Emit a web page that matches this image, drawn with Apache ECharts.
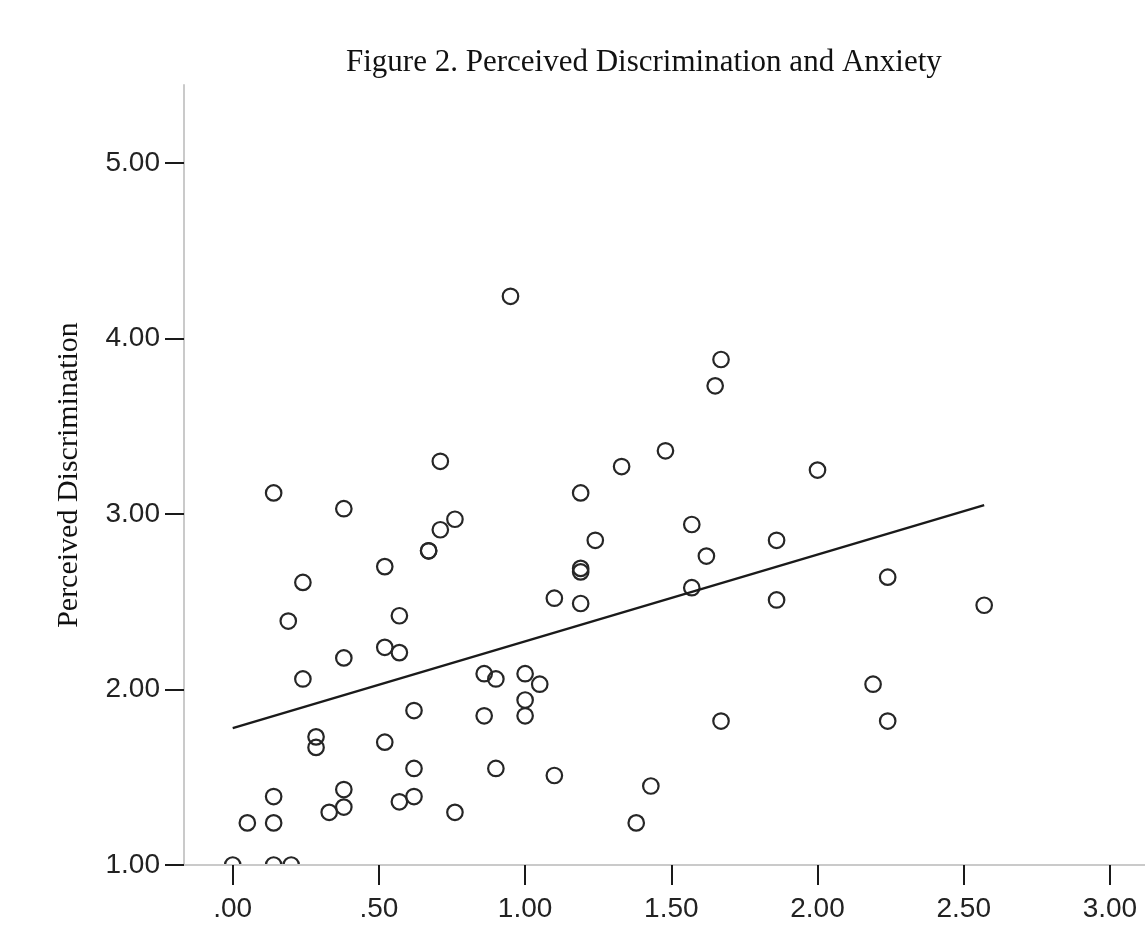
<!DOCTYPE html>
<html>
<head>
<meta charset="utf-8">
<script src="https://cdn.jsdelivr.net/npm/echarts@6/dist/echarts.min.js"></script>
<style>
html,body{margin:0;padding:0;background:#fff;}
#chart{width:1145px;height:934px;}
</style>
</head>
<body>
<div id="chart"></div>
<script>
// ---- data ----
var titleText = 'Figure 2. Perceived Discrimination and Anxiety';
var yAxisName = 'Perceived Discrimination';

// x = anxiety score, y = perceived discrimination
var pointsX = [0.00,0.14,0.20,0.05,0.14,0.14,0.14,0.19,0.24,0.24,0.285,0.285,0.33,0.38,0.38,0.38,0.38,
  0.52,0.52,0.52,0.57,0.57,0.57,0.62,0.62,0.62,0.67,0.67,0.71,0.71,0.76,0.76,0.86,0.86,0.90,0.90,0.95,
  1.00,1.00,1.00,1.05,1.10,1.10,1.19,1.19,1.19,1.19,1.24,1.33,1.38,1.43,1.48,1.57,1.57,1.62,1.65,1.67,
  1.67,1.86,1.86,2.00,2.19,2.24,2.24,2.57];
var pointsY = [1.00,1.00,1.00,1.24,1.24,1.39,3.12,2.39,2.61,2.06,1.73,1.67,1.30,1.33,1.43,2.18,3.03,
  2.70,2.24,1.70,2.42,2.21,1.36,1.39,1.55,1.88,2.79,2.79,2.91,3.30,2.97,1.30,2.09,1.85,2.06,1.55,4.24,
  2.09,1.94,1.85,2.03,2.52,1.51,2.69,2.67,2.49,3.12,2.85,3.27,1.24,1.45,3.36,2.94,2.58,2.76,3.73,3.88,
  1.82,2.85,2.51,3.25,2.03,2.64,1.82,2.48];

// fit line end points
var fitX = [0.00, 2.57];
var fitY = [1.78, 3.05];

var xTickValues = [0, 0.5, 1, 1.5, 2, 2.5, 3];
var xTickLabels = ['.00', '.50', '1.00', '1.50', '2.00', '2.50', '3.00'];
var yTickValues = [1, 2, 3, 4, 5];
var yTickLabels = ['1.00', '2.00', '3.00', '4.00', '5.00'];

// ---- build ----
var scatterData = pointsX.map(function (x, i) { return [x, pointsY[i]]; });
var lineData = fitX.map(function (x, i) { return [x, fitY[i]]; });
function labelFor(values, labels) {
  return function (v) {
    for (var i = 0; i < values.length; i++) {
      if (Math.abs(values[i] - v) < 1e-6) return labels[i];
    }
    return '';
  };
}

var chart = echarts.init(document.getElementById('chart'), null, {renderer: 'canvas'});
var axisLineColor = '#cacaca';
var tickColor = '#1a1a1a';
var labelFont = {fontFamily: 'Liberation Sans', fontSize: 28, color: '#222'};

chart.setOption({
  backgroundColor: '#fff',
  animation: false,
  title: {
    text: titleText,
    left: 341,
    top: 42,
    textStyle: {fontFamily: 'Liberation Serif', fontSize: 31, fontWeight: 'normal', color: '#111'}
  },
  grid: {left: 184, right: 0, top: 85, bottom: 69, containLabel: false},
  xAxis: {
    type: 'value',
    min: -0.1666,
    max: 3.12,
    z: 10,
    splitLine: {show: false},
    axisLine: {show: true, onZero: false, lineStyle: {color: axisLineColor, width: 2}},
    axisTick: {show: true, inside: false, length: 20, customValues: xTickValues,
      lineStyle: {color: tickColor, width: 2}},
    axisLabel: Object.assign({show: true, margin: 30, customValues: xTickValues,
      formatter: labelFor(xTickValues, xTickLabels)}, labelFont)
  },
  yAxis: {
    type: 'value',
    min: 1,
    max: 5.444,
    z: 10,
    name: yAxisName,
    nameLocation: 'middle',
    nameGap: 100,
    nameTextStyle: {fontFamily: 'Liberation Serif', fontSize: 30, color: '#111'},
    splitLine: {show: false},
    axisLine: {show: true, onZero: false, lineStyle: {color: axisLineColor, width: 2}},
    axisTick: {show: true, inside: false, length: 19, customValues: yTickValues,
      lineStyle: {color: tickColor, width: 2}},
    axisLabel: Object.assign({show: true, margin: 24, padding: [5, 0, 0, 0], customValues: yTickValues,
      formatter: labelFor(yTickValues, yTickLabels)}, labelFont)
  },
  graphic: [{
    type: 'rect',
    z: 5,
    shape: {x: 186, y: 866, width: 200, height: 12},
    style: {fill: '#fff'}
  }],
  series: [
    {
      type: 'scatter',
      data: scatterData,
      symbol: 'circle',
      symbolSize: 15.5,
      z: 2,
      itemStyle: {color: 'rgba(0,0,0,0)', borderColor: '#262626', borderWidth: 2.2, opacity: 1}
    },
    {
      type: 'line',
      data: lineData,
      symbol: 'none',
      z: 3,
      lineStyle: {color: '#1a1a1a', width: 2.4}
    }
  ]
});
</script>
</body>
</html>
